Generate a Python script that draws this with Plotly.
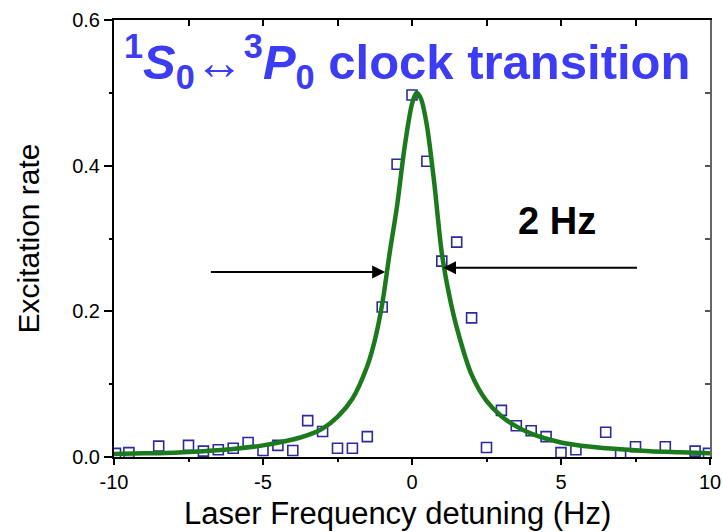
import plotly.graph_objects as go

# ---- data ----
det_x = [-9.95, -9.5, -8.5, -7.5, -7.0, -6.5, -6.0, -5.5, -5.0, -4.5, -4.0, -3.5, -3.0, -2.5, -2.0,
         -1.5, -1.0, -0.5, 0.0, 0.5, 1.0, 1.5, 2.0, 2.5, 3.0, 3.5, 4.0, 4.5, 5.0, 5.5, 6.5, 7.0,
         7.5, 8.5, 9.5, 9.95]
det_y = [0.005, 0.006, 0.015, 0.016, 0.008, 0.010, 0.012, 0.020, 0.009, 0.016, 0.009, 0.050, 0.035, 0.012, 0.012,
         0.028, 0.206, 0.402, 0.497, 0.406, 0.269, 0.295, 0.191, 0.013, 0.064, 0.043, 0.036, 0.028, 0.006, 0.010, 0.034, 0.004,
         0.014, 0.014, 0.008, 0.005]

fit_x = [-10, -9, -8, -7, -6, -5, -4, -3.5, -3, -2.5, -2, -1.5, -1.25, -1, -0.75, -0.5, -0.25, 0, 0.15,
         0.3, 0.5, 0.75, 1, 1.25, 1.5, 2, 2.5, 3, 3.5, 4, 5, 6, 7, 8, 9, 10]
fit_y = [0.004, 0.005, 0.006, 0.008, 0.011, 0.016, 0.024, 0.030, 0.039, 0.055, 0.080, 0.125, 0.160, 0.210, 0.280,
         0.345, 0.425, 0.485, 0.500, 0.492, 0.455, 0.375, 0.280, 0.222, 0.178, 0.113, 0.077, 0.056, 0.042, 0.032,
         0.020, 0.014, 0.0105, 0.008, 0.0065, 0.005]

x_tickvals = [-10, -5, 0, 5, 10]
x_ticktext = ["-10", "-5", "0", "5", "10"]
x_minor = [-7.5, -2.5, 2.5, 7.5]
y_tickvals = [0.0, 0.2, 0.4, 0.6]
y_ticktext = ["0.0", "0.2", "0.4", "0.6"]
y_minor = [0.1, 0.3, 0.5]
top_ticks = [-10, -7.5, -5, -2.5, 0, 2.5, 5, 7.5, 10]
right_ticks = [0.1, 0.2, 0.3, 0.4, 0.5]

x_title = "Laser Frequency detuning (Hz)"
y_title = "Excitation rate"

# arrow annotation positions (half maximum)
arrow_left = dict(tip=(-0.9, 0.254), tail=(-6.8, 0.254))
arrow_right = dict(tip=(1.04, 0.26), tail=(7.6, 0.26))

FONT = "Liberation Sans, Arial, sans-serif"

fig = go.Figure()
fig.add_trace(go.Scatter(
    x=det_x, y=det_y, mode="markers",
    marker=dict(symbol="square-open", size=10, color="#2b2b9e", line=dict(width=1.6, color="#2b2b9e")),
    showlegend=False, hoverinfo="skip"))
fig.add_trace(go.Scatter(
    x=fit_x, y=fit_y, mode="lines", line=dict(color="#1b7a1b", width=4.5, shape="spline", smoothing=0.8),
    showlegend=False, hoverinfo="skip"))
fig.add_trace(go.Scatter(x=[None], y=[None], xaxis="x2", yaxis="y2", showlegend=False, hoverinfo="skip"))

fig.update_layout(
    width=723, height=532,
    margin=dict(l=114, r=13, t=20, b=75, autoexpand=False),
    paper_bgcolor="white", plot_bgcolor="white",
    font=dict(family=FONT, color="black"),
    xaxis=dict(
        range=[-10, 10], tickvals=x_tickvals, ticktext=x_ticktext, automargin=False,
        ticks="outside", ticklen=6, tickwidth=2, tickcolor="black",
        minor=dict(tickvals=x_minor, ticks="outside", ticklen=3, tickwidth=2, tickcolor="black"),
        showline=True, linecolor="black", linewidth=2, mirror=False,
        showgrid=False, zeroline=False,
        tickfont=dict(size=20, family=FONT, color="black"),
    ),
    yaxis=dict(
        range=[0, 0.6], tickvals=y_tickvals, ticktext=y_ticktext, automargin=False,
        ticks="outside", ticklen=8, tickwidth=2, tickcolor="black",
        minor=dict(tickvals=y_minor, ticks="outside", ticklen=3, tickwidth=2, tickcolor="black"),
        showline=True, linecolor="black", linewidth=2, mirror=False,
        showgrid=False, zeroline=False,
        tickfont=dict(size=20, family=FONT, color="black"),
        title=dict(text=y_title, font=dict(size=30, family=FONT, color="black"), standoff=24),
    ),
    xaxis2=dict(
        overlaying="x", side="top", range=[-10, 10], tickvals=top_ticks, automargin=False,
        ticks="inside", ticklen=6, tickwidth=2, tickcolor="black", showticklabels=False,
        showline=True, linecolor="black", linewidth=2, showgrid=False, zeroline=False,
    ),
    yaxis2=dict(
        overlaying="y", side="right", range=[0, 0.6], tickvals=right_ticks, automargin=False,
        ticks="inside", ticklen=5, tickwidth=2, tickcolor="#555555", showticklabels=False,
        showline=True, linecolor="#666666", linewidth=2, showgrid=False, zeroline=False,
    ),
)

# x-axis title (slightly left of centre, as in the reference)
fig.add_annotation(
    xref="paper", yref="paper", x=0.476, y=-0.13, xanchor="center", yanchor="middle",
    text=x_title, showarrow=False, font=dict(size=31, family=FONT, color="black"))
fig.add_annotation(
    xref="paper", yref="paper", x=0.014, y=0.905, xanchor="left", yanchor="middle",
    text="<b><sup>1</sup><i>S</i><sub>0</sub>\u2194<sup>3</sup><i>P</i><sub>0</sub> clock transition</b>",
    showarrow=False, font=dict(size=49, family=FONT, color="#3c3cf5"))
fig.add_annotation(
    x=3.5, y=0.324, xref="x", yref="y", xanchor="left", yanchor="middle",
    text="<b>2 Hz</b>", showarrow=False, font=dict(size=38, family=FONT, color="black"))
for a in (arrow_left, arrow_right):
    fig.add_annotation(
        x=a["tip"][0], y=a["tip"][1], ax=a["tail"][0], ay=a["tail"][1],
        xref="x", yref="y", axref="x", ayref="y", text="", showarrow=True,
        arrowhead=2, arrowsize=1.3, arrowwidth=2, arrowcolor="black", standoff=0)

fig.write_html("out.html")
